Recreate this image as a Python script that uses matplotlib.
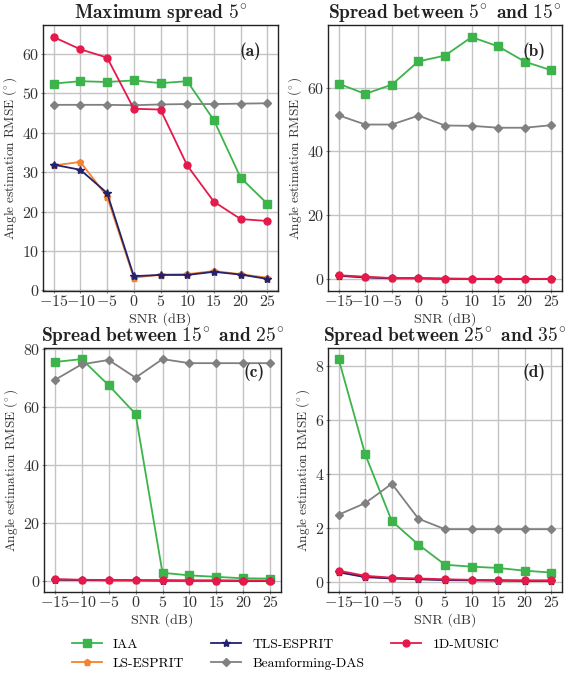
import numpy as np
import matplotlib.pyplot as plt

plt.rcParams['font.family'] = 'serif'
plt.rcParams['font.serif'] = ['cmr10']
plt.rcParams['mathtext.fontset'] = 'cm'
plt.rcParams['axes.formatter.use_mathtext'] = True
plt.rcParams['axes.unicode_minus'] = True

snr = [-15, -10, -5, 0, 5, 10, 15, 20, 25]
methods = ['IAA', 'LS-ESPRIT', 'TLS-ESPRIT', 'Beamforming-DAS', '1D-MUSIC']
colors = ['#3cb44b', '#f58231', '#22226e', '#808080', '#e6194b']
markers = ['s', 'p', '*', 'D', 'o']
msizes = [5.5, 5, 6, 4.5, 5]

titles = [r'$\mathbf{Maximum\ spread\ 5^{\!\circ}}$',
          r'$\mathbf{Spread\ between\ 5^{\!\circ}\ and\ 15^{\!\circ}}$',
          r'$\mathbf{Spread\ between\ 15^{\!\circ}\ and\ 25^{\!\circ}}$',
          r'$\mathbf{Spread\ between\ 25^{\!\circ}\ and\ 35^{\!\circ}}$']
panel_tags = ['(a)', '(b)', '(c)', '(d)']
ylab = r'$\mathrm{Angle\ estimation\ RMSE\ (^{\!\circ})}$'

# RMSE values per spread scenario, one list per method (order as in `methods`)
rmse_a = [
    [52.5, 53.1, 52.9, 53.3, 52.6, 53.1, 43.2, 28.6, 22.0],
    [31.7, 32.6, 23.8, 3.2, 4.0, 4.1, 4.9, 4.1, 3.2],
    [31.9, 30.6, 24.7, 3.6, 3.9, 3.9, 4.7, 4.0, 2.9],
    [47.1, 47.1, 47.1, 47.0, 47.2, 47.3, 47.3, 47.4, 47.5],
    [64.3, 61.2, 59.1, 46.1, 45.9, 31.7, 22.5, 18.1, 17.6],
]
rmse_b = [
    [61.2, 58.0, 60.9, 68.2, 70.0, 75.8, 72.9, 68.1, 65.4],
    [1.1, 0.6, 0.3, 0.3, 0.1, 0.1, 0.05, 0.05, 0.05],
    [1.0, 0.5, 0.2, 0.2, 0.1, 0.05, 0.05, 0.04, 0.04],
    [51.3, 48.4, 48.4, 51.2, 48.1, 48.0, 47.4, 47.4, 48.2],
    [1.2, 0.7, 0.3, 0.3, 0.1, 0.05, 0.05, 0.05, 0.05],
]
rmse_c = [
    [75.5, 76.5, 67.5, 57.6, 2.9, 2.0, 1.5, 1.0, 0.9],
    [0.6, 0.4, 0.4, 0.3, 0.3, 0.2, 0.2, 0.2, 0.2],
    [0.5, 0.4, 0.3, 0.3, 0.2, 0.2, 0.2, 0.1, 0.1],
    [69.3, 74.7, 76.2, 70.1, 76.5, 75.1, 75.1, 75.1, 75.1],
    [0.7, 0.5, 0.4, 0.3, 0.3, 0.2, 0.2, 0.2, 0.2],
]
rmse_d = [
    [8.27, 4.73, 2.25, 1.38, 0.63, 0.56, 0.51, 0.41, 0.34],
    [0.37, 0.19, 0.13, 0.10, 0.07, 0.06, 0.05, 0.04, 0.04],
    [0.35, 0.17, 0.12, 0.09, 0.06, 0.05, 0.04, 0.03, 0.03],
    [2.49, 2.92, 3.64, 2.34, 1.95, 1.95, 1.95, 1.95, 1.95],
    [0.41, 0.22, 0.15, 0.12, 0.09, 0.07, 0.06, 0.05, 0.05],
]
all_rmse = [rmse_a, rmse_b, rmse_c, rmse_d]

W, H = 571, 673
fig = plt.figure(figsize=(W / 100, H / 100), dpi=100)

# axes boxes in pixels: left, top, right, bottom
boxes = [(43, 25, 278, 291), (328, 25, 562, 291),
         (44, 348, 281, 592), (328, 348, 562, 592)]

handles = []
for i, (l, t, r, b) in enumerate(boxes):
    ax = fig.add_axes([l / W, 1 - b / H, (r - l) / W, (b - t) / H])
    ax.set_axisbelow(True)
    ax.grid(True, color='#c4c4c4', linewidth=1.0)
    for s in ax.spines.values():
        s.set_color('#222222')
        s.set_linewidth(1.0)
    ax.tick_params(direction='inout', length=3, width=0.8, pad=1,
                   labelsize=11.5, colors='#333333', color='#888888')
    for j, m in enumerate(methods):
        ln, = ax.plot(snr, all_rmse[i][j], color=colors[j], marker=markers[j],
                      markersize=msizes[j], linewidth=1.3, label=m)
        if i == 0:
            handles.append(ln)
    ax.set_xticks(snr)
    ax.set_xlabel('SNR (dB)', fontsize=10.2, color='#333333', labelpad=2)
    ax.set_ylabel(ylab, fontsize=9.6, color='#333333', labelpad=2)
    ax.set_title(titles[i], fontsize=14, pad=3, color='#222222')
    ax.text(0.93, 0.9, panel_tags[i], transform=ax.transAxes, ha='right',
            va='center', fontsize=12.5, fontfamily='cmb10', color='#222222')

fig.legend(handles=handles, loc='lower center', ncol=3, frameon=False,
           fontsize=9.8, handlelength=2.2, columnspacing=2.0,
           bbox_to_anchor=(0.5, -0.005), borderaxespad=0.1, labelspacing=0.45,
           handletextpad=0.8)

fig.savefig('out.png', dpi=100)
